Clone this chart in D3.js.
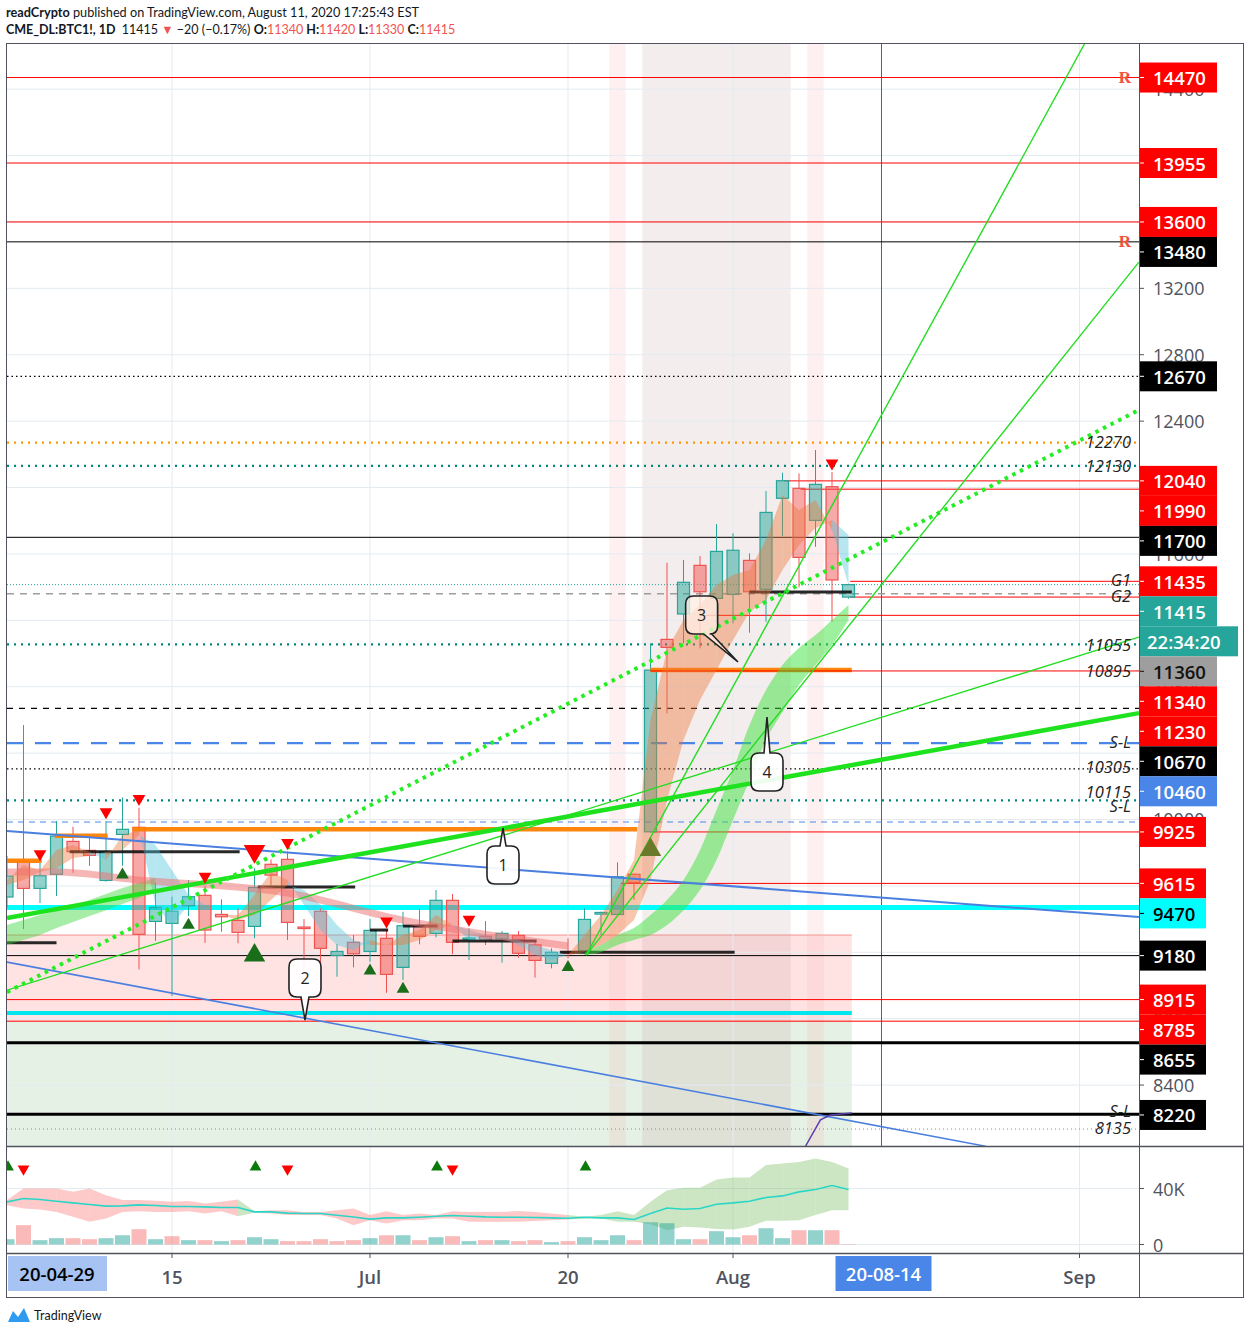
<!DOCTYPE html>
<html><head><meta charset="utf-8">
<script src="https://cdn.jsdelivr.net/npm/d3@7/dist/d3.min.js"></script>
<style>html,body{margin:0;padding:0;background:#fff;} svg{display:block} text{font-family:'Open Sans',sans-serif;}</style>
</head><body><svg id="chart" width="1250" height="1334"></svg>
<script>
// ---------------- DATA ----------------
const dates=['06-01','06-02','06-03','06-04','06-05','06-08','06-09','06-10','06-11','06-12','06-15','06-16','06-17','06-18','06-19','06-22','06-23','06-24','06-25','06-26','06-29','06-30','07-01','07-02','07-06','07-07','07-08','07-09','07-10','07-13','07-14','07-15','07-16','07-17','07-20','07-21','07-22','07-23','07-24','07-27','07-28','07-29','07-30','07-31','08-03','08-04','08-05','08-06','08-07','08-10','08-11','08-12'];
const open =[9533,9748,9585,9670,9868,9814,9633,9910,9953,9386,9374,9480,9543,9428,9392,9356,9730,9760,9352,9447,9181,9260,9205,9284,9109,9358,9314,9513,9280,9296,9281,9302,9245,9133,9203,9209,9430,9428,9670,9926,11085,11238,11531,11332,11356,11561,11387,11935,11995,11802,12005,11340];
const high =[9780,10569,9738,9991,9956,9906,9991,10133,10071,9619,9535,9635,9603,9519,9465,9706,9760,9806,9400,9465,9250,9304,9400,9334,9444,9460,9575,9551,9344,9388,9328,9328,9274,9224,9284,9465,9445,9742,9675,11061,11547,11563,11587,11780,11724,11603,11979,12089,12085,12226,12093,11420];
const low  =[9470,9340,9497,9539,9679,9721,9625,9721,9097,9269,8936,9418,9257,9324,9254,9284,9605,9274,9093,9077,9053,9109,9143,8956,9033,9248,9290,9189,9153,9244,9137,9167,9047,9103,9163,9189,9304,9420,9515,9920,10639,11061,11031,11182,11182,11125,11191,11708,11399,11643,11191,11330];
const close=[9659,9585,9661,9900,9806,9784,9806,9941,9308,9471,9448,9535,9334,9414,9320,9591,9665,9380,9345,9224,9205,9191,9332,9067,9360,9296,9513,9260,9286,9278,9314,9194,9151,9200,9194,9398,9440,9655,9621,10900,11037,11429,11372,11615,11622,11372,11850,12041,11579,12019,11443,11415];
const volume=[3800,13800,3100,4500,4500,3800,4500,6600,10900,3800,5900,3100,3100,2400,3100,5200,3800,2400,2400,3800,2400,3100,4500,6600,6600,3100,5200,5900,2400,3100,3100,2400,3100,1700,2400,5200,3100,6600,3100,15900,15200,3800,3800,9500,5200,6600,11600,4500,10200,10200,10200,300];
const volumeDir=['u','d','u','u','d','d','u','u','d','u','d','u','d','u','d','u','u','d','d','d','d','d','u','d','u','d','u','d','u','d','u','d','d','u','d','u','u','u','d','u','u','u','d','u','u','d','u','u','d','u','d','d'];
const volMA=[30400,32900,32100,30900,29700,28600,27400,27600,28300,27900,27100,27100,26900,26400,26400,23300,23300,22400,22100,22100,20900,19700,18100,19000,19000,19500,20200,20700,20200,19700,19500,19500,19300,19000,18800,19500,19000,19000,17900,22100,26100,25200,25700,28800,29700,30900,33600,34700,37600,39300,42100,39300];
const volUpper=[31700,40000,40000,40000,37600,40000,35200,31700,31700,31200,30500,31000,29300,30500,32100,23800,24500,24500,23300,23300,24500,25700,21000,23800,21000,22100,21000,23800,23300,23300,23300,24000,23300,22100,21000,19800,21000,23800,21000,30500,38800,40500,40500,46400,47900,47900,56700,57900,59000,61400,59000,54300];
const volLower=[28100,25700,25000,23300,19800,16200,18600,23300,23800,23300,23300,23800,22100,23800,20200,22600,22100,21000,21000,21000,18600,13800,17400,15000,17400,17400,18600,18600,16200,16200,16200,16200,16700,17400,17900,18600,18600,16200,16200,14500,10200,12600,12100,11000,10700,12600,16900,16900,17400,21000,24500,24500];
const volBandTrend=['r','r','r','r','r','r','r','r','r','r','r','r','r','r','g','r','r','r','r','r','r','r','r','r','r','r','r','r','r','r','r','r','r','r','g','g','g','g','g','g','g','g','g','g','g','g','g','g','g','g','g'];
// moving-average ribbon (fast / slow)
const ribFast=[9635,9726,9695,9816,9846,9804,9756,9906,9936,9485,9364,9485,9485,9424,9424,9545,9683,9635,9485,9334,9244,9213,9274,9244,9304,9334,9424,9364,9274,9274,9286,9244,9183,9153,9183,9304,9424,9575,9756,10599,11021,11202,11292,11412,11473,11503,11684,11955,11864,11925,11744,11412];
const ribSlow=[9605,9635,9683,9707,9768,9780,9804,9816,9906,9846,9695,9545,9485,9424,9394,9424,9515,9605,9575,9485,9364,9274,9244,9244,9244,9274,9334,9364,9334,9304,9286,9274,9244,9213,9183,9201,9244,9304,9394,9635,10117,10479,10720,10900,11081,11250,11322,11503,11653,11756,11804,11714];
// green ribbons
const leftGreenTop=[9364,9394,9424,9454,9485,9515,9551,9587,9617,9647];
const leftGreenBot=[9244,9274,9304,9346,9382,9418,9454,9491,9527,9575];
const rallyGreenStart=35;
const rallyGreenTop=[9201,9244,9304,9346,9424,9515,9635,9816,10057,10298,10569,10780,10931,11033,11111,11202,11292];
const rallyGreenBot=[9183,9201,9244,9274,9304,9364,9454,9575,9756,9997,10238,10479,10647,10810,10931,11051,11202];
const pinkMAIdx=[0,3,8,17,24,34];
const pinkMAVal=[9683,9683,9635,9557,9394,9238];
// signals
const sellSignals=[2,6,8,12,15,17,23,28,50];
const buySignals=[7,11,15,22,24,34,39];
const bigSignals=[15,39];
const volBuySignals=[0,15,26,35];
const volSellSignals=[1,17,27];
// horizontal levels
const levels=[
 {p:14470,k:'red'},{p:13955,k:'red'},{p:13600,k:'red'},{p:13480,k:'black'},{p:12670,k:'blackDot'},
 {p:12270,k:'orangeDot'},{p:12130,k:'tealDot'},{p:12040,k:'red',from:47.1},{p:11990,k:'red',from:48.1},
 {p:11700,k:'black'},{p:11435,k:'red',from:51.1},{p:11415,k:'lastDot'},{p:11360,k:'greyDash'},
 {p:11340,k:'red',from:51.1},{p:11230,k:'red',from:42.3},{p:11055,k:'tealDot'},{p:10895,k:'red',from:39},
 {p:10670,k:'blackDash'},{p:10460,k:'blueDash'},{p:10305,k:'blackDot'},{p:10115,k:'tealDot'},
 {p:9985,k:'blueDashThin'},{p:9925,k:'red',from:39.1},{p:9615,k:'red',from:37.2},{p:9470,k:'cyan'},
 {p:9180,k:'black'},{p:8915,k:'red'},{p:8834,k:'cyanZone',to:51.2},{p:8785,k:'red'},{p:8655,k:'blackThick'},
 {p:8225,k:'blackThick'},{p:8135,k:'greyDot'}
];
const segments=[ // short drawn segments [from bar, to bar, price]
 {k:'orange',i0:0,i1:2.1,p:9751},{k:'orange',i0:2.9,i1:6.1,p:9902},{k:'orange',i0:7.6,i1:38.2,p:9942},{k:'orange',i0:39,i1:51.2,p:10900},
 {k:'blackSeg',i0:0,i1:3,p:9258},{k:'blackSeg',i0:3.8,i1:14.1,p:9806},{k:'blackSeg',i0:15.2,i1:21.1,p:9593},
 {k:'blackSeg',i0:22,i1:23.1,p:9334},{k:'blackSeg',i0:24,i1:26.1,p:9358},{k:'blackSeg',i0:27,i1:32.1,p:9268},
 {k:'blackSeg',i0:33.5,i1:44.1,p:9201},{k:'blackSeg',i0:45,i1:51.2,p:11370}
];
const trendLines=[
 {k:'blue',i0:0,p0:9930,i1:68.6,p1:9412},
 {k:'blue2',i0:0,p0:9141,i1:59.3,p1:8032},
 {k:'greenThick',i0:0,p0:9406,i1:68.6,p1:10641},
 {k:'greenThin',i0:0,p0:8972,i1:68.6,p1:11099},
 {k:'greenDot',i0:0,p0:8960,i1:68.6,p1:12467},
 {k:'greenThin',i0:35.1,p0:9183,i1:65.3,p1:14672},
 {k:'greenThin',i0:35.1,p0:9183,i1:68.6,p1:13358}
];
const purpleIdx=[48.4,49.3,49.9,51.2];
const purpleVal=[8033,8190,8220,8232];
const pinkZone={i0:0,i1:51.2,top:9304,bot:8785};
const greenZone={i0:0,i1:51.2,top:8785,bot:8033};
const vBands=[{i0:36.5,i1:37.5,k:'pink'},{i0:38.5,i1:47.5,k:'grey'},{i0:48.5,i1:49.5,k:'pink'}];
const callouts=[
 {t:'1',i:30.06,p:9726,ti:30.06,tp:9948,side:'top'},
 {t:'2',i:18.06,p:9045,ti:18.06,tp:8792,side:'bottom'},
 {t:'3',i:42.1,p:11232,ti:44.3,tp:10949,side:'bottomRight'},
 {t:'4',i:46.06,p:10286,ti:46.06,tp:10617,side:'top'}
];
const notes=[{p:12270,t:'12270'},{p:12130,t:'12130'},{p:11435,t:'G1'},{p:11360,t:'G2'},{p:11055,t:'11055'},{p:10895,t:'10895'},{p:10460,t:'S-L'},{p:10305,t:'10305'},{p:10115,t:'10115'},{p:9985,t:'S-L'},{p:8225,t:'S-L'},{p:8135,t:'8135'}];
const rMarks=[14470,13480];
const axisLabels=[
 {p:14470,k:'red'},{p:13955,k:'red'},{p:13600,k:'red'},{p:13480,k:'black'},{p:12670,k:'black'},
 {p:12040,k:'red'},{p:11990,k:'red'},{p:11700,k:'black'},{p:11435,k:'red'},{p:11415,k:'teal',extra:'22:34:20'},
 {p:11360,k:'grey'},{p:11340,k:'red'},{p:11230,k:'red'},{p:10670,k:'black'},{p:10460,k:'blue'},
 {p:9925,k:'red'},{p:9615,k:'red'},{p:9470,k:'cyan'},{p:9180,k:'black'},{p:8915,k:'red'},{p:8785,k:'red'},
 {p:8655,k:'black'},{p:8220,k:'black'}
];
const priceTicks=d3.range(8400,14401,400);
const timeTicks=[{i:10,t:'15'},{i:22,t:'Jul'},{i:34,t:'20'},{i:44,t:'Aug'},{i:65,t:'Sep'}];
const cursorIdx=53, cursorLabel='20-08-14', leftLabel='20-04-29';
const volTicks=[{v:40000,t:'40K'},{v:0,t:'0'}];

// ---------------- LAYOUT ----------------
const L=7,R=1139,T=44,MB=1146,VB=1253,AB=1297,OR=1243;
const svg=d3.select('#chart');
const x=d3.scaleLinear().domain([0,68.606]).range([L,R]);
const y=d3.scaleLinear().domain([8033,14672]).range([MB,T]);
const yv=d3.scaleLinear().domain([0,40000]).range([1244.5,1188.5]);

const defs=svg.append('defs');
defs.append('clipPath').attr('id','cm').append('rect').attr('x',L).attr('y',T).attr('width',R-L).attr('height',MB-T);
defs.append('clipPath').attr('id','cv').append('rect').attr('x',L).attr('y',MB).attr('width',R-L).attr('height',VB-MB);

// header
const h1=svg.append('text').attr('x',6).attr('y',17).style('font-family','Lato').style('font-size','12.7px').attr('fill','#131722');
h1.append('tspan').attr('font-weight',700).text('readCrypto');
h1.append('tspan').text(' published on TradingView.com, August 11, 2020 17:25:43 EST');
const h2=svg.append('text').attr('x',6).attr('y',34).style('font-family','Lato').style('font-size','12.5px').attr('fill','#131722');
const RED='#f05350';
[['CME_DL:BTC1!, 1D',700,null],['  11415 ',400,null],['▼',400,RED],[' −20 (−0.17%) ',400,null],['O:',700,null],['11340',400,RED],[' H:',700,null],['11420',400,RED],[' L:',700,null],['11330',400,RED],[' C:',700,null],['11415',400,RED]]
 .forEach(([t,w,c])=>{const s=h2.append('tspan').attr('font-weight',w).style('white-space','pre').text(t); if(c) s.attr('fill',c);});

const gm=svg.append('g').attr('clip-path','url(#cm)');
// zones
[[pinkZone,'rgba(255,80,80,0.16)'],[greenZone,'rgba(90,160,80,0.15)']].forEach(([z,c])=>{
 gm.append('rect').attr('x',x(z.i0)-1).attr('y',y(z.top)).attr('width',x(z.i1)-x(z.i0)+1).attr('height',y(z.bot)-y(z.top)).attr('fill',c);
});
gm.append('line').attr('x1',L).attr('x2',x(pinkZone.i1)).attr('y1',y(pinkZone.top)).attr('y2',y(pinkZone.top)).attr('stroke','rgba(240,80,80,0.4)').attr('stroke-width',1.5);
// vertical bands
vBands.forEach(b=>gm.append('rect').attr('x',x(b.i0)).attr('y',T).attr('width',x(b.i1)-x(b.i0)).attr('height',MB-T)
 .attr('fill',b.k==='pink'?'rgba(250,170,170,0.18)':'rgba(190,150,150,0.17)'));
// grid
priceTicks.forEach(p=>gm.append('line').attr('x1',L).attr('x2',R).attr('y1',y(p)).attr('y2',y(p)).attr('stroke','#e3ebf1').attr('stroke-width',1));
timeTicks.forEach(t=>gm.append('line').attr('x1',x(t.i)).attr('x2',x(t.i)).attr('y1',T).attr('y2',MB).attr('stroke','#e3ebf1'));
gm.append('line').attr('x1',x(cursorIdx)).attr('x2',x(cursorIdx)).attr('y1',T).attr('y2',MB).attr('stroke','#5d606b').attr('stroke-width',1);

// level lines
const st={
 red:{s:'#ff0000',w:1},black:{s:'#000',w:1},blackDot:{s:'#000',w:1.2,d:'1.5 3'},orangeDot:{s:'#ff9800',w:2.2,d:'2 5'},
 tealDot:{s:'#00897b',w:2.2,d:'2 5'},lastDot:{s:'#26a69a',w:1,d:'1 2'},greyDash:{s:'#9e9e9e',w:1.3,d:'7 6'},
 blackDash:{s:'#000',w:1.3,d:'6 6'},blueDash:{s:'#4a86e8',w:2.2,d:'16 12'},blueDashThin:{s:'#4a86e8',w:1.2,d:'6 5'},
 cyan:{s:'#00ffff',w:5},cyanZone:{s:'#00e5ee',w:4},blackThick:{s:'#000',w:3},greyDot:{s:'#888',w:1,d:'1 3'},
 orange:{s:'#ff8000',w:4.5},blackSeg:{s:'#111',w:3}
};
levels.forEach(l=>{const s=st[l.k];
 gm.append('line').attr('x1',l.from!=null?x(l.from):L).attr('x2',l.to!=null?x(l.to):R).attr('y1',y(l.p)).attr('y2',y(l.p))
  .attr('stroke',s.s).attr('stroke-width',s.w).attr('stroke-dasharray',s.d||null);});

// candles
const cw=12;
const gc=gm.append('g');
dates.forEach((d,i)=>{
 const up=close[i]>=open[i];
 const col=up?'#26a69a':'#ef5350', fill=up?'rgba(38,166,154,0.5)':'rgba(239,83,80,0.5)';
 const yt=y(Math.max(open[i],close[i])), yb=y(Math.min(open[i],close[i]));
 gc.append('line').attr('x1',x(i)).attr('x2',x(i)).attr('y1',y(high[i])).attr('y2',yt).attr('stroke',col);
 gc.append('line').attr('x1',x(i)).attr('x2',x(i)).attr('y1',yb).attr('y2',y(low[i])).attr('stroke',col);
 gc.append('rect').attr('x',x(i)-cw/2).attr('y',yt).attr('width',cw).attr('height',Math.max(1.5,yb-yt)).attr('fill',fill).attr('stroke',col).attr('stroke-width',1.2);
});

// segments
segments.forEach(sg=>{const s=st[sg.k];
 gm.append('line').attr('x1',x(sg.i0)).attr('x2',x(sg.i1)).attr('y1',y(sg.p)).attr('y2',y(sg.p)).attr('stroke',s.s).attr('stroke-width',s.w).attr('stroke-opacity',sg.k==='orange'?0.95:0.9);});
gm.append('line').attr('x1',x(39)).attr('x2',x(51.2)).attr('y1',y(10895)).attr('y2',y(10895)).attr('stroke','#ff0000').attr('stroke-width',1);

// ribbons
for(let i=0;i<dates.length-1;i++){
 const up=(ribFast[i]+ribFast[i+1])>=(ribSlow[i]+ribSlow[i+1]);
 gm.append('path').attr('d',d3.line()([[x(i),y(ribFast[i])],[x(i+1),y(ribFast[i+1])],[x(i+1),y(ribSlow[i+1])],[x(i),y(ribSlow[i])]])+'Z')
  .attr('fill',up?'rgba(235,120,60,0.42)':'rgba(80,195,220,0.42)');
}
gm.append('path').attr('d',d3.area().curve(d3.curveMonotoneX).x((d,i)=>x(i)).y0((d,i)=>y(leftGreenBot[i])).y1(d=>y(d))(leftGreenTop)).attr('fill','rgba(60,215,60,0.45)');
gm.append('path').attr('d',d3.area().curve(d3.curveMonotoneX).x((d,i)=>x(rallyGreenStart+i)).y0((d,i)=>y(rallyGreenBot[i])).y1(d=>y(d))(rallyGreenTop)).attr('fill','rgba(60,225,60,0.5)');
gm.append('path').attr('d',d3.line().curve(d3.curveMonotoneX)(pinkMAIdx.map((v,k)=>[x(v),y(pinkMAVal[k])]))).attr('fill','none').attr('stroke','rgba(240,110,110,0.5)').attr('stroke-width',7);

// trend lines
const ts={blue:{s:'#4a7fe0',w:2},blue2:{s:'#4a7fe0',w:1.6},greenThick:{s:'#1de21d',w:4.5},greenThin:{s:'#22dd22',w:1.4},greenDot:{s:'#22ee22',w:4,d:'3.5 5'}};
trendLines.forEach(t=>{const s=ts[t.k];
 gm.append('line').attr('x1',x(t.i0)).attr('y1',y(t.p0)).attr('x2',x(t.i1)).attr('y2',y(t.p1)).attr('stroke',s.s).attr('stroke-width',s.w).attr('stroke-dasharray',s.d||null);});
gm.append('path').attr('d',d3.line()(purpleIdx.map((v,k)=>[x(v),y(purpleVal[k])]))).attr('fill','none').attr('stroke','#5a3fb0').attr('stroke-width',1.5);

// signals
const tri=(sz)=>d3.symbol(d3.symbolTriangle).size(sz)();
sellSignals.forEach(i=>{const big=bigSignals.includes(i);
 gm.append('path').attr('d',tri(big?200:70)).attr('transform',`translate(${x(i)},${y(high[i])-(big?17:9)}) rotate(180)`).attr('fill','#ff0000');});
buySignals.forEach(i=>{const big=bigSignals.includes(i);
 gm.append('path').attr('d',tri(big?200:70)).attr('transform',`translate(${x(i)},${y(low[i])+(big?17:9)})`).attr('fill',i===39?'#6b7a2a':'#1a6e1a');});

// callouts
callouts.forEach(c=>{
 const cx=x(c.i), cy=y(c.p), w=32, h=38, r=8;
 const x0=cx-w/2,x1=cx+w/2,y0=cy-h/2,y1=cy+h/2, tx=x(c.ti), ty=y(c.tp);
 let d;
 if(c.side==='top') d=`M${x0+r},${y0} H${cx-3} L${tx},${ty} L${cx+3},${y0} H${x1-r} Q${x1},${y0} ${x1},${y0+r} V${y1-r} Q${x1},${y1} ${x1-r},${y1} H${x0+r} Q${x0},${y1} ${x0},${y1-r} V${y0+r} Q${x0},${y0} ${x0+r},${y0}Z`;
 else if(c.side==='bottom') d=`M${x0+r},${y0} H${x1-r} Q${x1},${y0} ${x1},${y0+r} V${y1-r} Q${x1},${y1} ${x1-r},${y1} H${cx+4} L${tx},${ty} L${cx-4},${y1} H${x0+r} Q${x0},${y1} ${x0},${y1-r} V${y0+r} Q${x0},${y0} ${x0+r},${y0}Z`;
 else d=`M${x0+r},${y0} H${x1-r} Q${x1},${y0} ${x1},${y0+r} V${y1-r} Q${x1},${y1} ${x1-r},${y1} H${x1-6} L${tx},${ty} L${x1-14},${y1} H${x0+r} Q${x0},${y1} ${x0},${y1-r} V${y0+r} Q${x0},${y0} ${x0+r},${y0}Z`;
 gm.append('path').attr('d',d).attr('fill',c.t==='3'?'rgba(255,240,230,0.75)':'rgba(255,255,255,0.92)').attr('stroke','#222').attr('stroke-width',1.6);
 gm.append('text').attr('x',cx).attr('y',cy).attr('text-anchor','middle').attr('dominant-baseline','central').style('font-size','16px').attr('fill','#222').text(c.t);
});

// notes
const noteDy=[-1,0,-2,2,0,0,-2,-2,-9,-16,-4,-2];
notes.forEach((n,k)=>gm.append('text').attr('x',1131).attr('y',y(n.p)+noteDy[k]).attr('text-anchor','end').attr('dominant-baseline','central')
 .style('font-size','16.5px').style('font-style','italic').attr('fill','#222').text(n.t));
rMarks.forEach(p=>gm.append('text').attr('x',1125).attr('y',y(p)).attr('text-anchor','middle').attr('dominant-baseline','central')
 .style('font-family','Liberation Serif').style('font-size','17px').attr('font-weight',700).attr('fill','#f0503c').text('R'));

// ---------------- VOLUME PANE ----------------
const gv=svg.append('g').attr('clip-path','url(#cv)');
volTicks.forEach(t=>gv.append('line').attr('x1',L).attr('x2',R).attr('y1',yv(t.v)).attr('y2',yv(t.v)).attr('stroke','#e3ebf1'));
timeTicks.forEach(t=>gv.append('line').attr('x1',x(t.i)).attr('x2',x(t.i)).attr('y1',MB).attr('y2',VB).attr('stroke','#e3ebf1'));
for(let i=0;i<dates.length-1;i++){
 gv.append('path').attr('d',d3.line()([[x(i),yv(volUpper[i])],[x(i+1),yv(volUpper[i+1])],[x(i+1),yv(volLower[i+1])],[x(i),yv(volLower[i])]])+'Z')
  .attr('fill',volBandTrend[i]==='g'?'rgba(120,190,100,0.38)':'rgba(250,120,120,0.4)');
}
volume.forEach((v,i)=>gv.append('rect').attr('x',x(i)-7.5).attr('y',yv(v)).attr('width',15).attr('height',yv(0)-yv(v))
 .attr('fill',volumeDir[i]==='u'?'rgba(38,166,154,0.5)':'rgba(239,83,80,0.4)'));
gv.append('path').attr('d',d3.line()(volMA.map((v,i)=>[x(i),yv(v)]))).attr('fill','none').attr('stroke','#2ad6c6').attr('stroke-width',1.6);
volBuySignals.forEach(i=>gv.append('path').attr('d',tri(60)).attr('transform',`translate(${x(i)+1},${1167})`).attr('fill','#0a7a0a'));
volSellSignals.forEach(i=>gv.append('path').attr('d',tri(60)).attr('transform',`translate(${x(i)},${1169}) rotate(180)`).attr('fill','#ff0000'));

// ---------------- AXES / FRAME ----------------
const AX='#50535e';
const ga=svg.append('g');
// stacked axis label positions
const boxCol={red:['#ff0000','#fff'],black:['#000','#fff'],teal:['#26a69a','#fff'],grey:['#9e9e9e','#111'],blue:['#4a86e8','#fff'],cyan:['#00ffff','#000']};
let prevY=-1e9; const placed=[];
axisLabels.slice().sort((a,b)=>b.p-a.p).forEach(a=>{
 const cy=Math.max(y(a.p),prevY+30); prevY=cy; placed.push({a,cy});
 if(a.extra){prevY=cy+30; placed.push({a:{p:null,k:a.k,txt:a.extra},cy:cy+30});}
});
const hidden=(ty)=>placed.some(pl=>Math.abs(pl.cy-ty)<9.6);
priceTicks.forEach(p=>{
 ga.append('line').attr('x1',R).attr('x2',R+5).attr('y1',y(p)).attr('y2',y(p)).attr('stroke',AX);
 if(!hidden(y(p))) ga.append('text').attr('x',1153).attr('y',y(p)).attr('dominant-baseline','central').style('font-size','18px').attr('fill',AX).text(p);
});
volTicks.forEach(t=>{
 ga.append('line').attr('x1',R).attr('x2',R+5).attr('y1',yv(t.v)).attr('y2',yv(t.v)).attr('stroke',AX);
 ga.append('text').attr('x',1153).attr('y',yv(t.v)).attr('dominant-baseline','central').style('font-size','18px').attr('fill',AX).text(t.t);
});
placed.forEach(({a,cy})=>{
 const [bg,fg]=boxCol[a.k];
 if(a.txt){
  ga.append('rect').attr('x',R).attr('y',cy-15).attr('width',99).attr('height',30).attr('fill',bg);
  ga.append('text').attr('x',1147).attr('y',cy).attr('dominant-baseline','central').style('font-size','18.5px').attr('font-weight',600).attr('fill',fg).text(a.txt);
 } else {
  const txt=String(a.p), wdt=txt.length>=5?78:67;
  ga.append('rect').attr('x',R).attr('y',cy-15).attr('width',wdt).attr('height',30).attr('fill',bg);
  ga.append('line').attr('x1',R).attr('x2',R+5).attr('y1',cy).attr('y2',cy).attr('stroke',fg);
  ga.append('text').attr('x',1153).attr('y',cy).attr('dominant-baseline','central').style('font-size','18.5px').attr('font-weight',600).attr('fill',fg).text(txt);
 }
});
// time axis
timeTicks.forEach(t=>{
 ga.append('line').attr('x1',x(t.i)).attr('x2',x(t.i)).attr('y1',VB).attr('y2',VB+5).attr('stroke',AX);
 ga.append('text').attr('x',x(t.i)).attr('y',1276).attr('text-anchor','middle').attr('dominant-baseline','central').style('font-size','18.5px').attr('font-weight',600).attr('fill',AX).text(t.t);
});
ga.append('rect').attr('x',8).attr('y',1256).attr('width',99).attr('height',35).attr('fill','#a6c3f4');
ga.append('text').attr('x',57).attr('y',1273).attr('text-anchor','middle').attr('dominant-baseline','central').style('font-size','18.5px').attr('font-weight',600).attr('fill','#000').text(leftLabel);
ga.append('rect').attr('x',x(cursorIdx)-46).attr('y',1256).attr('width',96).attr('height',35).attr('fill','#4a86e8');
ga.append('text').attr('x',x(cursorIdx)+2).attr('y',1273).attr('text-anchor','middle').attr('dominant-baseline','central').style('font-size','18.5px').attr('font-weight',600).attr('fill','#fff').text(cursorLabel);
// frame
ga.append('rect').attr('x',6.5).attr('y',43.5).attr('width',OR-6).attr('height',AB-43).attr('fill','none').attr('stroke',AX);
ga.append('line').attr('x1',R+0.5).attr('x2',R+0.5).attr('y1',43).attr('y2',AB).attr('stroke',AX);
[MB,VB].forEach(v=>ga.append('line').attr('x1',6).attr('x2',OR).attr('y1',v+0.5).attr('y2',v+0.5).attr('stroke',AX).attr('stroke-width',1.3));
// logo
svg.append('path').attr('d','M8,1322 L13,1311 L18,1317 L24,1308 L30,1322 Z').attr('fill','#2e9bf0');
svg.append('text').attr('x',34).attr('y',1320).style('font-family','Lato').style('font-size','12.5px').attr('fill','#131722').text('TradingView');
</script></body></html>
